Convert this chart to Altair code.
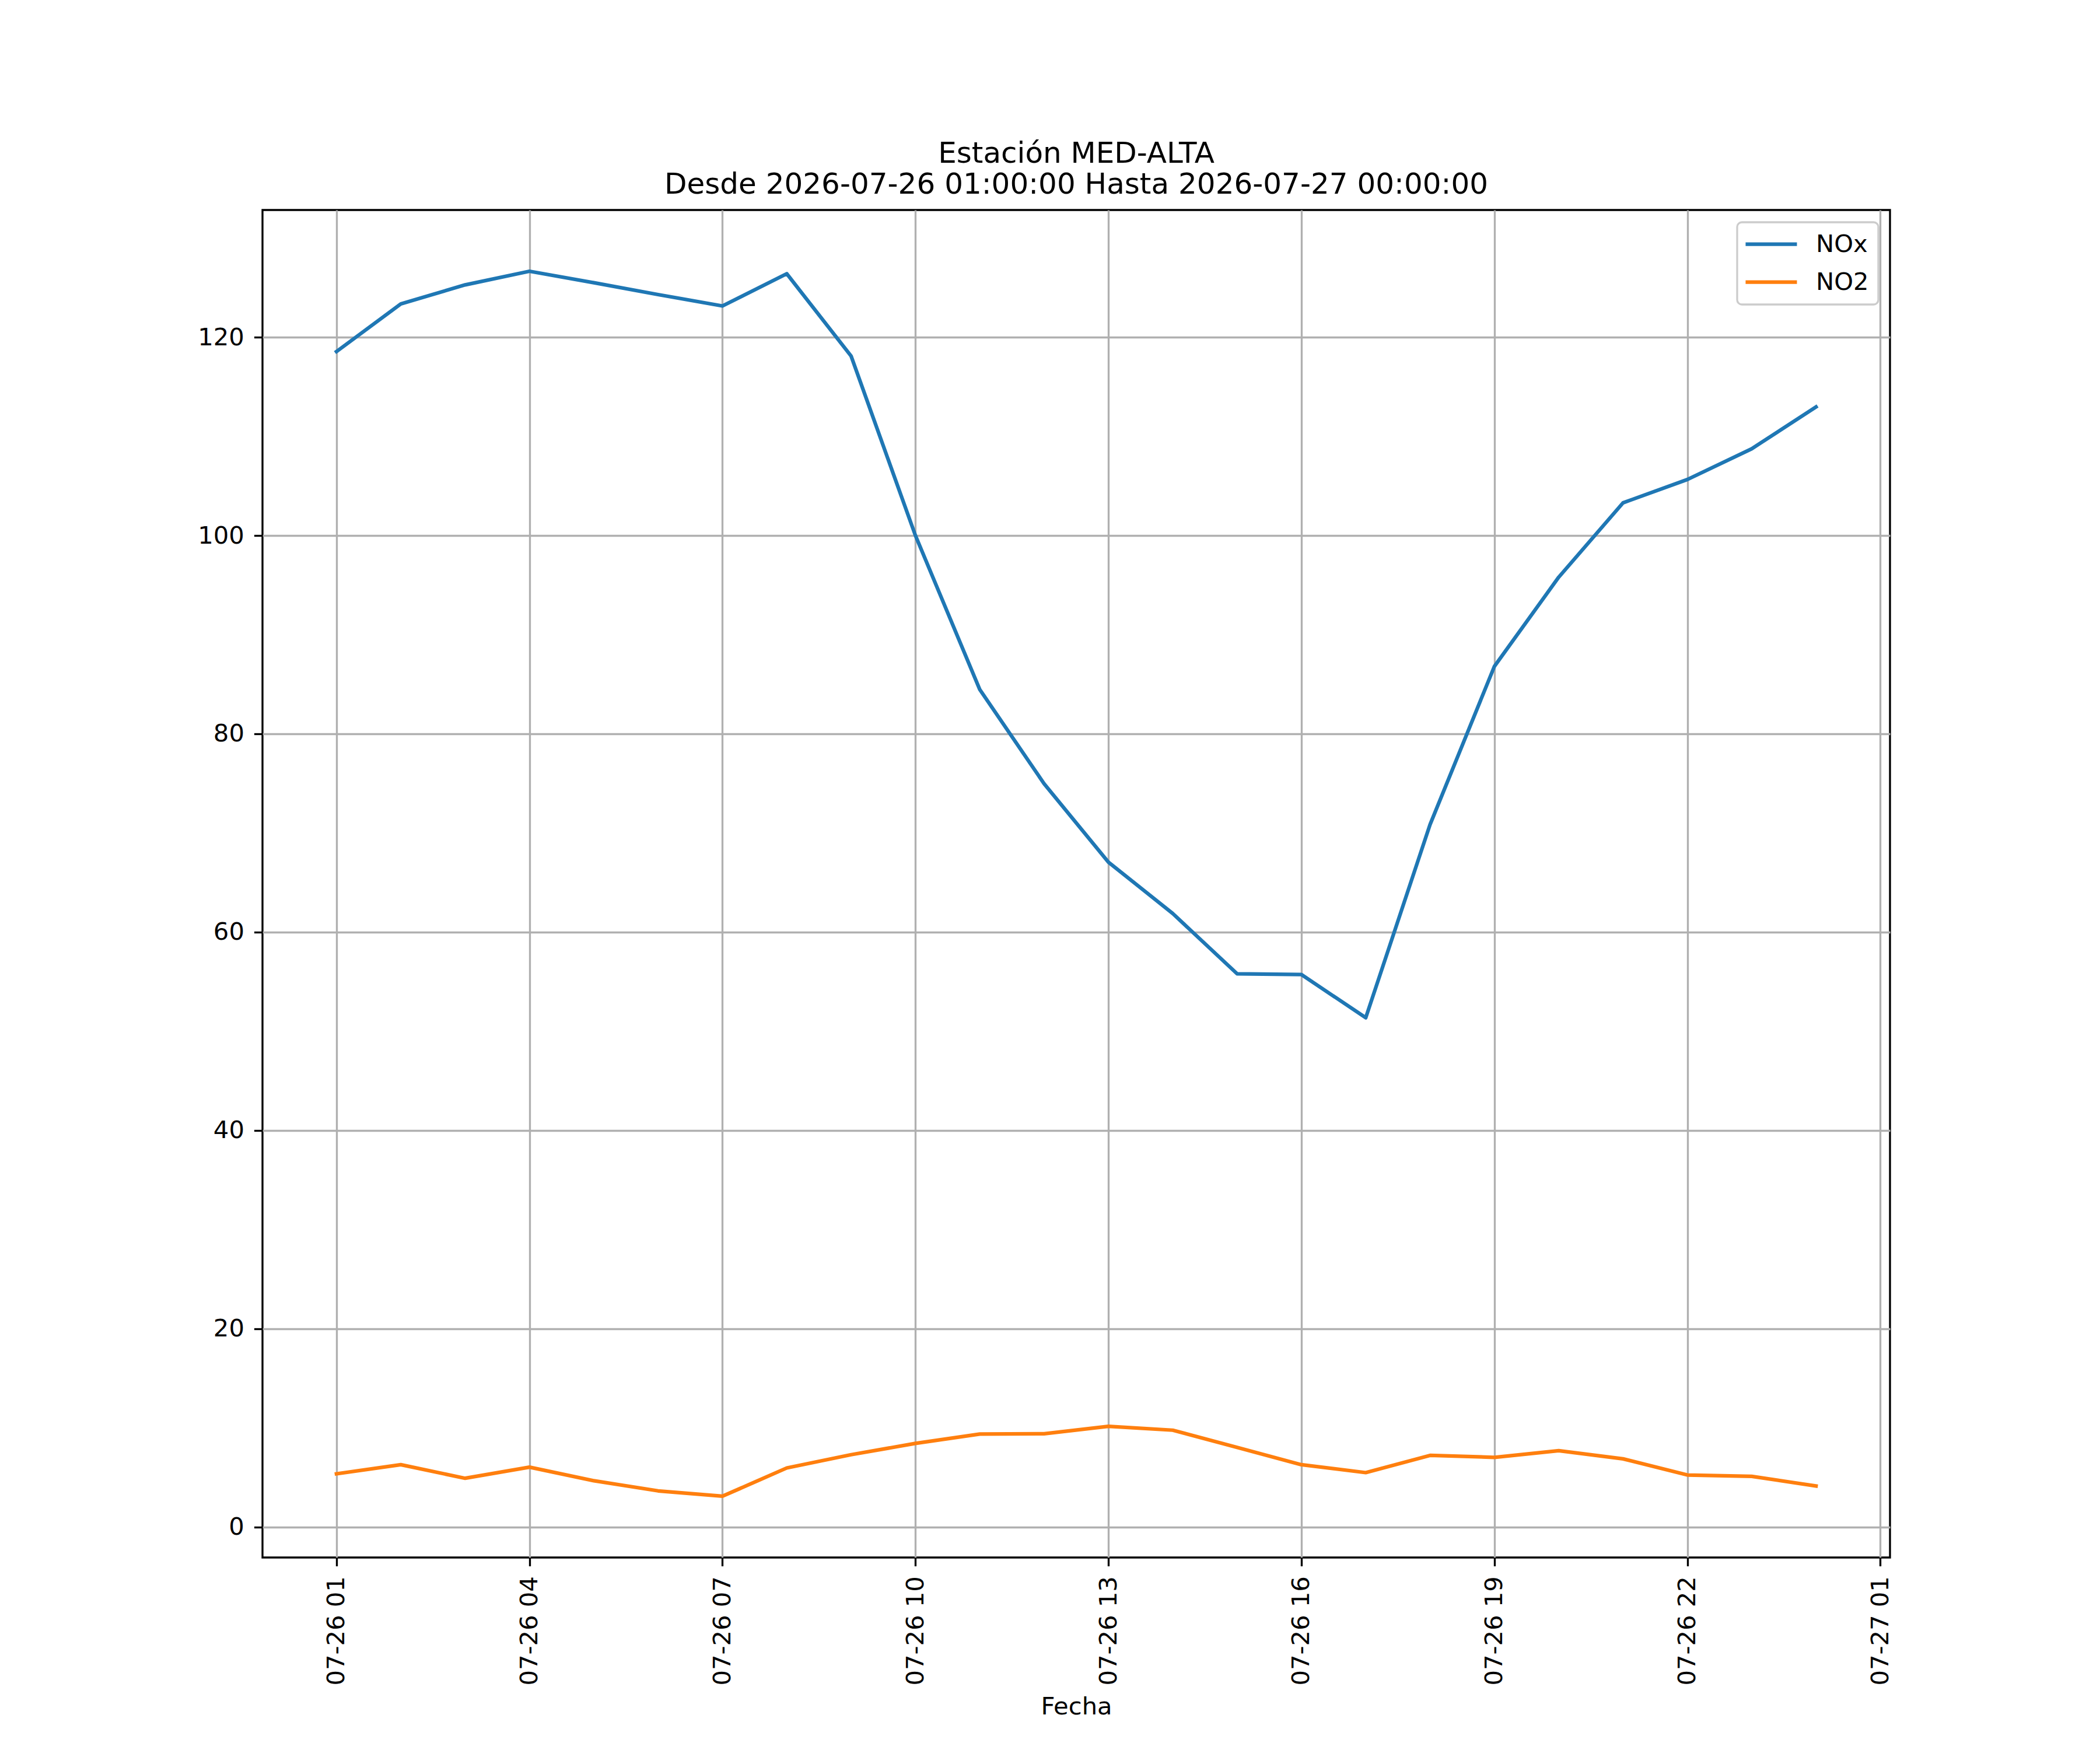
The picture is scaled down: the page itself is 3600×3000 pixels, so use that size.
import altair as alt
import pandas as pd

# ---- data ----
hours = [f"2026-07-26T{h:02d}:00:00Z" for h in range(1, 24)] + ["2026-07-27T00:00:00Z"]
nox = [118.55, 123.36, 125.28, 126.65, 125.5, 124.3, 123.15, 126.4, 118.1, 100.0,
       84.47, 74.97, 67.06, 61.88, 55.80, 55.72, 51.37, 70.85, 86.8, 95.8,
       103.3, 105.65, 108.75, 112.97]
no2 = [5.37, 6.29, 4.92, 6.04, 4.67, 3.65, 3.11, 5.96, 7.30, 8.44,
       9.38, 9.41, 10.16, 9.77, 8.03, 6.29, 5.49, 7.23, 7.03, 7.70,
       6.88, 5.25, 5.12, 4.14]
series_names = ["NOx", "NO2"]
series_colors = ["#1f77b4", "#ff7f0e"]
y_ticks = [0, 20, 40, 60, 80, 100, 120]
title_lines = ["Estación MED-ALTA", "Desde 2026-07-26 01:00:00 Hasta 2026-07-27 00:00:00"]

rows = []
for name, vals in zip(series_names, [nox, no2]):
    for t, v in zip(hours, vals):
        rows.append({"Fecha": t, "serie": name, "valor": v})
df = pd.DataFrame(rows)

x_ticks = [alt.DateTime(year=2026, month=7, date=26 + (h // 24), hours=h % 24, utc=True)
           for h in range(1, 26, 3)]
x_domain = [alt.DateTime(year=2026, month=7, date=25, hours=23, minutes=51, utc=True),
            alt.DateTime(year=2026, month=7, date=27, hours=1, minutes=9, utc=True)]

FONT = "DejaVu Sans"
FS = 41.7

chart = alt.Chart(df).mark_line(strokeWidth=6.25, strokeJoin="round", strokeCap="square").encode(
    x=alt.X("Fecha:T",
            scale=alt.Scale(type="utc", domain=x_domain, nice=False),
            axis=alt.Axis(title="Fecha", values=x_ticks, format="%m-%d %H",
                          labelAngle=270, labelAlign="right", labelBaseline="middle",
                          labelPadding=17, labelFlush=False, labelOverlap=False,
                          labelLimit=1000, titlePadding=35)),
    y=alt.Y("valor:Q",
            scale=alt.Scale(domain=[-3.07, 132.83], nice=False, zero=False),
            axis=alt.Axis(title=None, values=y_ticks, labelPadding=17, labelOverlap=False)),
    color=alt.Color("serie:N",
                    scale=alt.Scale(domain=series_names, range=series_colors),
                    sort=series_names,
                    legend=alt.Legend(title=None, orient="none", legendX=2528, legendY=21,
                                      symbolType="M-1.28,0H3.61", symbolSize=1296,
                                      symbolStrokeWidth=6.25, labelFontSize=FS,
                                      labelFont=FONT, labelColor="black",
                                      labelOffset=76, rowPadding=21, padding=16,
                                      labelLimit=1000,
                                      fillColor="rgba(255,255,255,0.8)",
                                      strokeColor="#cccccc", cornerRadius=8)),
    order=alt.Order("Fecha:T"),
    detail="serie:N",
).properties(
    width=2790,
    height=2310,
    autosize=alt.AutoSizeParams(type="none"),
    padding={"left": 442, "top": 352, "right": 344, "bottom": 314},
    title=alt.Title(text=title_lines, fontSize=50, font=FONT, fontWeight="normal",
                    color="black", anchor="middle", frame="group", offset=-32,
                    baseline="bottom", lineHeight=53),
).configure_view(
    stroke="black", strokeWidth=3.33
).configure_axis(
    domain=False,
    grid=True, gridColor="#b0b0b0", gridWidth=3.33,
    ticks=True, tickColor="black", tickWidth=3.33, tickSize=14.6,
    labelFont=FONT, labelFontSize=FS, labelColor="black",
    titleFont=FONT, titleFontSize=FS, titleFontWeight="normal", titleColor="black",
).configure_legend(
    strokeWidth=3.33
)

chart.save("out.html", embed_options={"renderer": "svg", "actions": False})
